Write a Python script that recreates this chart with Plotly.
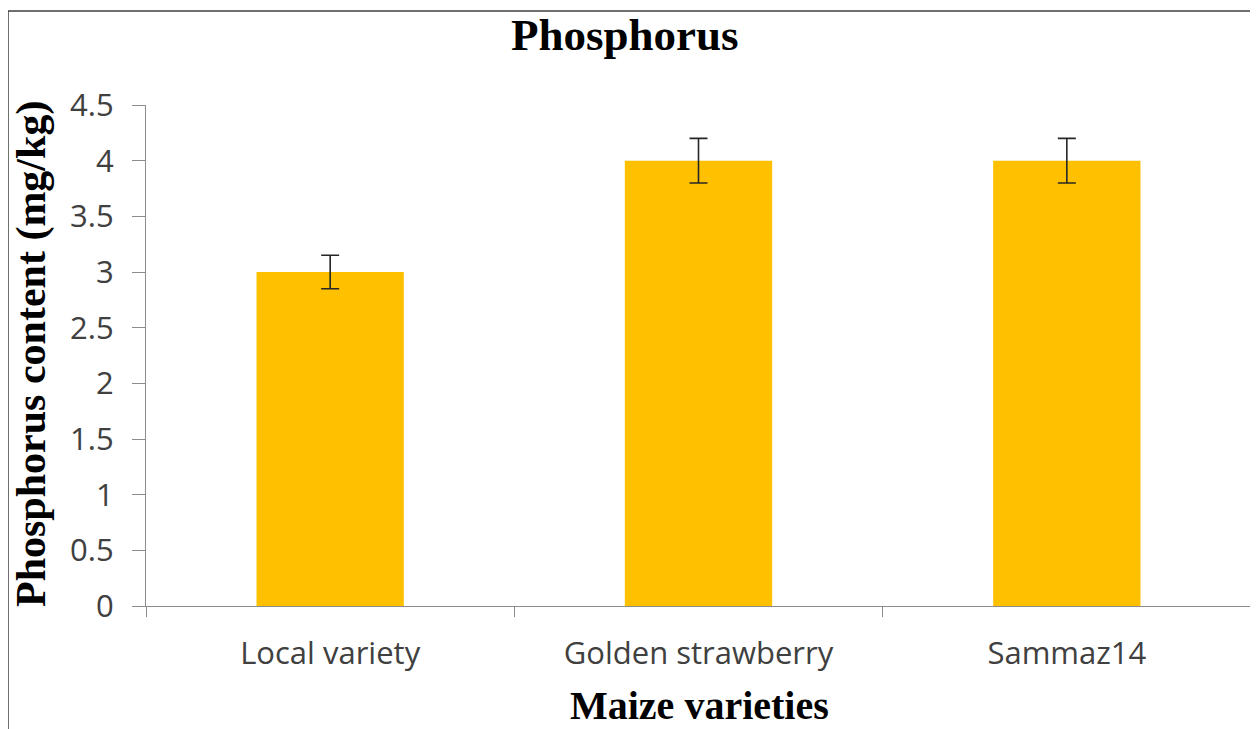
import plotly.graph_objects as go

categories = ["Local variety", "Golden strawberry", "Sammaz14"]
values = [3.0, 4.0, 4.0]
errors = [0.15, 0.2, 0.2]
y_ticks = [0, 0.5, 1, 1.5, 2, 2.5, 3, 3.5, 4, 4.5]
y_tick_text = ["0", "0.5", "1", "1.5", "2", "2.5", "3", "3.5", "4", "4.5"]

# the page body has an 8px margin, so figure coords = screenshot coords - 8
OFF = 8
W, H = 1258 - OFF, 729 - OFF
L, R, T, B = 146 - OFF, 7, 105 - OFF, 123
pw = W - L - R
ph = H - T - B

def px_x(x):  # screenshot x -> paper fraction
    return (x - OFF - L) / pw

def px_y(y):  # screenshot y -> paper fraction
    return (H - B - (y - OFF)) / ph

fig = go.Figure(go.Bar(
    x=categories, y=values,
    marker=dict(color="#FFC000", line=dict(width=0)),
    error_y=dict(type="data", array=errors, visible=True, color="#262626",
                 thickness=1.6, width=9),
    width=0.4,
))

serif = "Liberation Serif, Times New Roman, serif"
sans = "Open Sans, Carlito, Calibri, sans-serif"

fig.update_layout(
    width=W, height=H,
    margin=dict(l=L, r=R, t=T, b=B),
    paper_bgcolor="white", plot_bgcolor="white",
    showlegend=False,
    xaxis=dict(
        showline=True, linecolor="#8c8c8c", linewidth=1.3,
        ticks="outside", tickson="boundaries", ticklen=10, tickcolor="#8c8c8c",
        ticklabelstandoff=20,
        tickfont=dict(family=sans, size=31, color="#404040"),
        showgrid=False,
    ),
    yaxis=dict(
        range=[0, 4.5], tickvals=y_ticks, ticktext=y_tick_text,
        showline=True, linecolor="#8c8c8c", linewidth=1.3,
        ticks="outside", ticklen=13, tickcolor="#8c8c8c",
        ticklabelstandoff=12,
        tickfont=dict(family=sans, size=31, color="#404040"),
        showgrid=False, zeroline=False,
    ),
    annotations=[
        dict(text="<b>Phosphorus</b>", xref="paper", yref="paper",
             x=px_x(625), y=px_y(35), xanchor="center", yanchor="middle",
             showarrow=False, font=dict(family=serif, size=45, color="black")),
        dict(text="<b>Maize varieties</b>", xref="paper", yref="paper",
             x=px_x(699), y=px_y(705), xanchor="center", yanchor="middle",
             showarrow=False, font=dict(family=serif, size=40, color="black")),
        dict(text="<b>Phosphorus content (mg/kg)</b>", xref="paper", yref="paper",
             x=px_x(31), y=px_y(354), xanchor="center", yanchor="middle",
             textangle=-90,
             showarrow=False, font=dict(family=serif, size=42, color="black")),
    ],
    shapes=[dict(
        type="rect", xref="paper", yref="paper",
        x0=px_x(8), x1=px_x(1254),
        y0=px_y(745), y1=px_y(11),
        line=dict(color="#404040", width=1.5), fillcolor="rgba(0,0,0,0)",
        layer="below",
    )],
)

fig.write_html("out.html")
